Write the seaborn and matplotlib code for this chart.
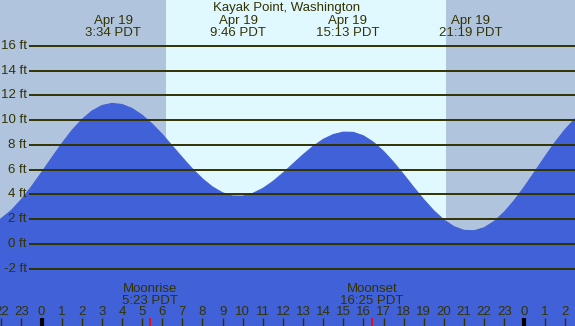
import matplotlib
matplotlib.use("Agg")
import matplotlib.pyplot as plt
import seaborn as sns
import pandas as pd

# tide heights (ft), every half hour from 22:30 the day before
hours = [h / 2 for h in range(-5, 55)]
heights = [1.64, 2.05, 2.71, 3.59, 4.62, 5.76, 6.93, 8.08, 9.14, 10.03,
           10.72, 11.17, 11.35, 11.26, 10.94, 10.40, 9.69, 8.85, 7.91, 6.97,
           6.06, 5.26, 4.60, 4.13, 3.88, 3.87, 4.08, 4.48, 5.04, 5.72,
           6.46, 7.20, 7.88, 8.44, 8.83, 9.03, 9.01, 8.73, 8.21, 7.48,
           6.59, 5.60, 4.57, 3.58, 2.68, 1.94, 1.40, 1.10, 1.07, 1.31,
           1.82, 2.57, 3.52, 4.61, 5.79, 6.99, 8.15, 9.19, 10.08, 10.75]

extreme_times = ["3:34", "9:46", "15:13", "21:19"]
extreme_date = "Apr 19"
moon_events = ["Moonrise", "Moonset"]
moon_times = ["5:23", "16:25"]
sunrise, sunset = 6.18, 20.10
y_levels = [16, 14, 12, 10, 8, 6, 4, 2, 0, -2]
title = "Kayak Point, Washington"

NIGHT = "#b0c4de"
DAY = "#e0f8ff"
WATER = "#4161d8"
INK = "#333300"

# pixel mapping
X0, PXH = 41.5, 20.12
Y0, PXF = 244.0, 12.39
W, H = 575, 326


def xh(px):
    return (px - X0) / PXH


def yf(py):
    return (Y0 - py) / PXF


def to_hours(s):
    h, m = s.split(":")
    return int(h) + int(m) / 60


sns.set_style("white")
plt.rcParams["font.family"] = ["Liberation Sans", "DejaVu Sans"]

fig = plt.figure(figsize=(W / 100, H / 100), dpi=100)
ax = fig.add_axes([0, 0, 1, 1])
ax.set_xlim(xh(0), xh(W))
ax.set_ylim(yf(H), yf(0))
ax.axis("off")

ax.axvspan(xh(0), sunrise, color=NIGHT, lw=0, zorder=0)
ax.axvspan(sunrise, sunset, color=DAY, lw=0, zorder=0)
ax.axvspan(sunset, xh(W), color=NIGHT, lw=0, zorder=0)

tide = pd.DataFrame({"hour": hours, "ft": heights})
sns.lineplot(data=tide, x="hour", y="ft", color=WATER, lw=0.8, ax=ax, zorder=1)
ax.fill_between(tide["hour"], tide["ft"], yf(H), color=WATER, lw=0, zorder=1)

fs = 9.5
for lv in y_levels:
    ax.hlines(lv, xh(29), xh(W), color=INK, lw=1.4, zorder=2)
    ax.text(xh(27), lv, f"{lv} ft", ha="right", va="center",
            fontsize=fs, color=INK, zorder=3)

ax.text(xh(287), yf(11.5), title, ha="center", va="baseline", fontsize=fs, color=INK)
for t in extreme_times:
    x = to_hours(t)
    ax.text(x, yf(24.3), extreme_date, ha="center", va="baseline", fontsize=fs, color=INK)
    ax.text(x, yf(36), f"{t} PDT", ha="center", va="baseline", fontsize=fs, color=INK)

for name, t in zip(moon_events, moon_times):
    x = to_hours(t)
    ax.text(x, yf(291.5), name, ha="center", va="baseline", fontsize=fs, color=INK)
    ax.text(x, yf(303.5), f"{t} PDT", ha="center", va="baseline", fontsize=fs, color=INK)
    ax.vlines(x, yf(318), yf(H), color="red", lw=1.2, zorder=3)

for hr in range(-2, 27):
    ax.text(hr, yf(315), str(hr % 24), ha="center", va="baseline", fontsize=fs, color=INK)
    if hr % 24 == 0:
        ax.vlines(hr, yf(318), yf(H), color="black", lw=3, zorder=3)
    else:
        ax.vlines(hr, yf(318), yf(H), color=INK, lw=1, zorder=3)

fig.savefig("out.png", dpi=100)
